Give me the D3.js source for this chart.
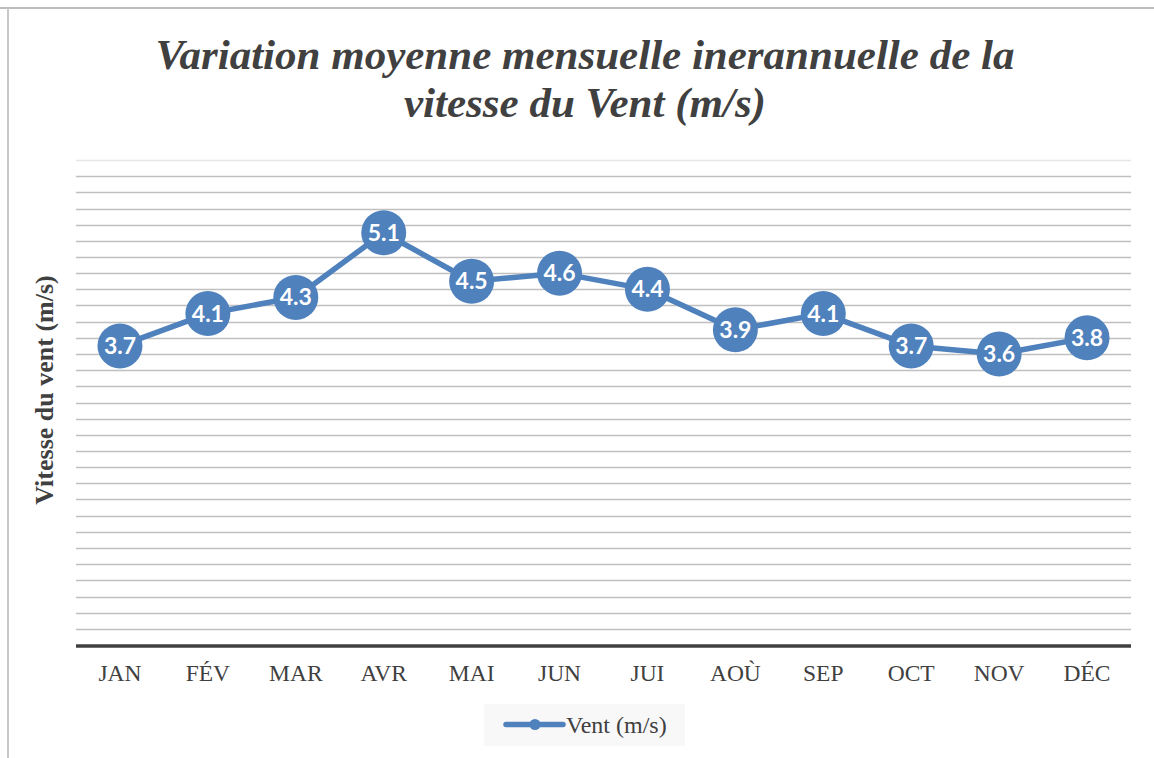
<!DOCTYPE html>
<html>
<head>
<meta charset="utf-8">
<script src="https://cdn.jsdelivr.net/npm/d3@7"></script>
<style>
  body { margin: 0; background: #fff; }
</style>
</head>
<body>
<div id="chart"></div>
<script>
var months = ["JAN", "FÉV", "MAR", "AVR", "MAI", "JUN", "JUI", "AOÙ", "SEP", "OCT", "NOV", "DÉC"];
var vent = [3.7, 4.1, 4.3, 5.1, 4.5, 4.6, 4.4, 3.9, 4.1, 3.7, 3.6, 3.8];
var gridTicks = d3.range(0, 6.01, 0.2);

var W = 1154, H = 758;
var margin = { top: 160, right: 23, bottom: 113, left: 76 };
var blue = "#4f81bd";
var serif = "'Liberation Serif', 'Times New Roman', Times, serif";

var svg = d3.select("#chart").append("svg")
  .attr("width", W)
  .attr("height", H);

svg.append("rect").attr("width", W).attr("height", H).style("fill", "#fff");

// outer frame (only top and left visible)
svg.append("line").attr("x1", 0).attr("x2", W).attr("y1", 8).attr("y2", 8)
  .style("stroke", "#bcbcbc").style("stroke-width", 2);
svg.append("line").attr("x1", 8).attr("x2", 8).attr("y1", 8).attr("y2", H)
  .style("stroke", "#c8c8c8").style("stroke-width", 2);

var x = d3.scaleBand().domain(months)
  .range([margin.left, W - margin.right]);
var y = d3.scaleLinear().domain([0, 6])
  .range([H - margin.bottom, margin.top]);

// gridlines
svg.append("g").selectAll("line")
  .data(gridTicks.slice(1))
  .enter().append("line")
  .attr("x1", margin.left)
  .attr("x2", W - margin.right)
  .attr("y1", function(d) { return Math.round(y(d)) + 0.5; })
  .attr("y2", function(d) { return Math.round(y(d)) + 0.5; })
  .style("stroke", function(d, i) { return i == gridTicks.length - 2 ? "#e6e6e6" : "#c0c0c0"; })
  .style("stroke-width", 1.5);

// baseline
svg.append("line")
  .attr("x1", margin.left).attr("x2", W - margin.right)
  .attr("y1", y(0) + 1).attr("y2", y(0) + 1)
  .style("stroke", "#404040").style("stroke-width", 3.5);

// x axis labels
var xAxis = d3.axisBottom(x).tickSize(0).tickPadding(19);
var gx = svg.append("g")
  .attr("transform", "translate(0," + y(0) + ")")
  .call(xAxis);
gx.select(".domain").remove();
gx.selectAll("text")
  .style("font-family", serif)
  .style("font-size", "23.5px")
  .style("fill", "#404040");

// y axis title
svg.append("text")
  .attr("transform", "translate(53," + 390 + ") rotate(-90)")
  .style("text-anchor", "middle")
  .style("font-family", serif)
  .style("font-weight", "bold")
  .style("font-size", "26px")
  .style("fill", "#404040")
  .text("Vitesse du vent (m/s)");

// title
var title = svg.append("text")
  .style("text-anchor", "middle")
  .style("font-family", serif)
  .style("font-weight", "bold")
  .style("font-style", "italic")
  .style("font-size", "43px")
  .style("fill", "#404040");
title.append("tspan").attr("x", 585).attr("y", 69).text("Variation moyenne mensuelle inerannuelle de la");
title.append("tspan").attr("x", 585).attr("y", 117).text("vitesse du Vent (m/s)");

// line
var line = d3.line()
  .x(function(d, i) { return x(months[i]) + x.bandwidth() / 2; })
  .y(function(d) { return y(d); });

svg.append("path")
  .datum(vent)
  .attr("d", line)
  .style("fill", "none")
  .style("stroke", blue)
  .style("stroke-width", 5.5)
  .style("stroke-linejoin", "round");

var pts = svg.append("g").selectAll("g")
  .data(vent)
  .enter().append("g")
  .attr("transform", function(d, i) {
    return "translate(" + (x(months[i]) + x.bandwidth() / 2) + "," + y(d) + ")";
  });
pts.append("circle")
  .attr("r", 22.5)
  .style("fill", blue);
pts.append("text")
  .attr("y", 8)
  .style("text-anchor", "middle")
  .style("font-family", "Lato, 'Open Sans', sans-serif")
  .style("font-weight", "bold")
  .style("font-size", "23px")
  .style("fill", "#fff")
  .text(function(d) { return d.toFixed(1); });

// legend
var lg = svg.append("g").attr("transform", "translate(484,704)");
lg.append("rect").attr("width", 201).attr("height", 42).style("fill", "#f8f8f8");
lg.append("line").attr("x1", 22).attr("x2", 79).attr("y1", 20.5).attr("y2", 20.5)
  .style("stroke", blue).style("stroke-width", 5.5).style("stroke-linecap", "round");
lg.append("circle").attr("cx", 51).attr("cy", 20.5).attr("r", 5.5).style("fill", blue);
lg.append("text")
  .attr("x", 82).attr("y", 29)
  .style("font-family", serif)
  .style("font-size", "24px")
  .style("fill", "#404040")
  .text("Vent (m/s)");
</script>
</body>
</html>
